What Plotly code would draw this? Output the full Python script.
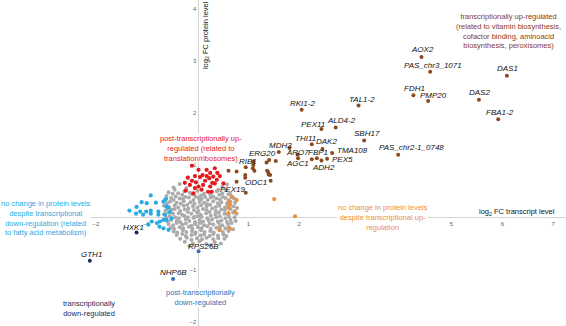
import plotly.graph_objects as go

# ---------------- data (log2 FC transcript, log2 FC protein) ----------------
gray_x = [-0.47, -0.35, -0.22, 0.41, 0.49, 0.58,
          -0.57, -0.45, -0.38, -0.26, -0.15, 0.00, 0.13, 0.38, 0.49, 0.56, 0.64,
          -0.61, -0.49, -0.43, -0.30, -0.24, -0.11, -0.04, 0.07, 0.15, 0.25, 0.31, 0.43, 0.50, 0.61, 0.67,
          -0.64, -0.52, -0.47, -0.35, -0.29, -0.17, -0.08, 0.02, 0.08, 0.20, 0.26, 0.37, 0.44, 0.55, 0.62, 0.72,
          -0.60, -0.54, -0.41, -0.33, -0.27, -0.14, -0.06, 0.04, 0.13, 0.19, 0.31, 0.40, 0.47, 0.58, 0.65, 0.74,
          -0.66, -0.56, -0.45, -0.38, -0.27, -0.20, -0.09, 0.00, 0.07, 0.18, 0.25, 0.36, 0.43, 0.54, 0.61, 0.71, 0.78,
          -0.63, -0.51, -0.45, -0.34, -0.25, -0.18, -0.07, 0.02, 0.11, 0.18, 0.29, 0.36, 0.47, 0.54, 0.65, 0.73,
          -0.66, -0.57, -0.48, -0.37, -0.30, -0.19, -0.12, -0.01, 0.06, 0.17, 0.24, 0.35, 0.42, 0.53, 0.60, 0.70, 0.77,
          -0.62, -0.55, -0.44, -0.37, -0.26, -0.19, -0.08, 0.01, 0.08, 0.19, 0.26, 0.37, 0.44, 0.55, 0.62, 0.73,
          -0.59, -0.52, -0.41, -0.34, -0.23, -0.16, -0.05, 0.04, 0.11, 0.22, 0.29, 0.40, 0.47, 0.58, 0.65, 0.75,
          -0.57, -0.48, -0.41, -0.30, -0.23, -0.12, -0.05, 0.06, 0.13, 0.24, 0.31, 0.42, 0.49, 0.60, 0.67,
          -0.53, -0.46, -0.35, -0.28, -0.17, -0.10, 0.01, 0.08, 0.19, 0.26, 0.37, 0.44, 0.55, 0.62, 0.70,
          -0.47, -0.40, -0.29, -0.22, -0.11, -0.04, 0.07, 0.14, 0.25, 0.32, 0.43, 0.50, 0.61,
          -0.41, -0.30, -0.23, -0.12, -0.05, 0.06, 0.13, 0.24, 0.31, 0.40, 0.51, 0.57,
          -0.34, -0.21, -0.12, -0.01, 0.09, 0.18, 0.31, 0.41, 0.53,
          -0.25, -0.09, 0.04, 0.17, 0.34, 0.46, -0.16, 0.26]
gray_y = [0.57, 0.64, 0.56, 0.53, 0.58, 0.63,
          0.48, 0.53, 0.46, 0.50, 0.47, 0.51, 0.45, 0.50, 0.46, 0.52, 0.45,
          0.41, 0.45, 0.40, 0.43, 0.39, 0.44, 0.40, 0.42, 0.39, 0.44, 0.40, 0.43, 0.39, 0.44, 0.40,
          0.34, 0.37, 0.33, 0.36, 0.35, 0.38, 0.33, 0.37, 0.35, 0.33, 0.38, 0.36, 0.34, 0.37, 0.33, 0.36,
          0.27, 0.30, 0.28, 0.26, 0.31, 0.29, 0.26, 0.30, 0.28, 0.25, 0.31, 0.27, 0.29, 0.26, 0.30, 0.28,
          0.22, 0.20, 0.23, 0.19, 0.22, 0.24, 0.21, 0.19, 0.23, 0.21, 0.24, 0.20, 0.22, 0.19, 0.23, 0.21, 0.18,
          0.13, 0.15, 0.16, 0.12, 0.15, 0.17, 0.14, 0.12, 0.16, 0.14, 0.17, 0.12, 0.15, 0.14, 0.16, 0.12,
          0.06, 0.09, 0.07, 0.08, 0.05, 0.10, 0.07, 0.09, 0.05, 0.08, 0.10, 0.06, 0.09, 0.07, 0.05, 0.09, 0.07,
          -0.01, 0.02, 0.00, -0.02, 0.03, 0.00, -0.01, 0.02, 0.01, -0.02, 0.03, 0.00, 0.02, -0.02, 0.01, 0.00,
          -0.08, -0.05, -0.07, -0.09, -0.04, -0.07, -0.09, -0.05, -0.08, -0.06, -0.04, -0.08, -0.06, -0.09, -0.05, -0.07,
          -0.13, -0.15, -0.11, -0.14, -0.12, -0.16, -0.13, -0.11, -0.15, -0.12, -0.14, -0.11, -0.15, -0.13, -0.11,
          -0.20, -0.22, -0.19, -0.21, -0.18, -0.22, -0.19, -0.21, -0.17, -0.22, -0.20, -0.18, -0.21, -0.19, -0.23,
          -0.27, -0.29, -0.25, -0.28, -0.26, -0.29, -0.25, -0.28, -0.26, -0.29, -0.25, -0.28, -0.26,
          -0.34, -0.32, -0.36, -0.34, -0.32, -0.35, -0.33, -0.36, -0.32, -0.35, -0.33, -0.36,
          -0.41, -0.39, -0.43, -0.40, -0.42, -0.39, -0.42, -0.40, -0.41,
          -0.47, -0.50, -0.46, -0.51, -0.48, -0.50, -0.55, -0.53]

red_x = [-0.11, -0.15, -0.03, 0.05, 0.10, 0.18, 0.25, 0.23, 0.31, 0.38, 0.34, 0.39, 0.18, 0.34,
         0.51, -0.05, 0.02, 0.11, 0.08, -0.23, -0.08, 0.25, 0.28, 0.02, -0.11, -0.25, -0.19,
         0.44, 0.15, 0.29, -0.05, 0.21]
red_y = [0.70, 0.62, 0.67, 0.77, 0.81, 0.79, 0.85, 0.75, 0.78, 0.72, 0.65, 0.85, 0.91, 0.94,
         0.65, 0.56, 0.59, 0.62, 0.53, 0.51, 0.46, 0.59, 0.49, 0.91, 0.99, 0.66, 0.76,
         0.79, 0.70, 0.66, 0.79, 0.49]

cyan_x = [-0.92, -1.10, -1.00, -1.20, -1.34, -1.13, -1.01, -0.92, -1.21, -1.07, -0.92, -0.77, -0.77,
          -0.67, -0.62, -0.61, -0.58, -0.64, -0.67, -0.74, -0.80, -0.90, -0.75, -0.67, -0.57, -0.97,
          -0.82, -0.51, -0.61, -0.54]
cyan_y = [0.42, 0.29, 0.27, 0.20, 0.13, 0.11, 0.11, 0.13, 0.07, 0.05, 0.07, 0.11, 0.05,
          0.30, 0.35, 0.21, 0.18, 0.05, -0.05, -0.08, -0.11, -0.08, -0.18, -0.21, -0.24, -0.14,
          0.28, -0.02, -0.05, 0.10]

orange_x = [1.51, 1.92, 0.64, 0.74, 0.61, 0.61, 0.64, 0.61, 0.44, 0.77, 0.68]
orange_y = [0.35, 0.02, -0.22, 0.10, 0.18, 0.30, 0.24, 0.08, -0.24, 0.33, 0.39]

brown_x = [0.61, 0.77, 0.94, 0.94, 0.77, 1.09, 1.12, 1.36, 1.54, 1.37, 1.43, 1.81, 1.97,
           1.10, 1.10, 1.39, 1.40]
brown_y = [0.89, 0.88, 0.81, 0.76, 0.68, 0.94, 0.89, 1.05, 1.08, 0.89, 0.81, 1.33, 1.20,
           1.07, 1.00, 0.87, 0.82]

up_names = ["AOX2", "PAS_chr3_1071", "DAS1", "FDH1", "PMP20", "DAS2", "FBA1-2", "TAL1-2",
            "RKI1-2", "PEX11", "ALD4-2", "SBH17", "THI11", "DAK2", "TMA108", "PAS_chr2-1_0748",
            "FBP1", "PEX5", "ADH2", "AGC1", "ARO7", "MDH3", "ERG20", "RIB1", "ODC1", "PEX19"]
up_x = [4.41, 4.58, 6.09, 4.25, 4.54, 5.54, 5.92, 3.17,
        2.05, 2.44, 2.72, 3.28, 2.25, 2.46, 2.65, 3.95,
        2.35, 2.55, 2.44, 2.25, 1.98, 1.60, 1.41, 0.95, 1.44, 0.95]
up_y = [3.07, 2.79, 2.71, 2.34, 2.23, 2.25, 1.88, 2.14,
        2.06, 1.69, 1.72, 1.47, 1.40, 1.31, 1.23, 1.20,
        1.13, 1.12, 1.09, 1.11, 1.13, 1.25, 1.10, 0.96, 0.70, 0.47]

navy_names = ["HXK1", "GTH1"]
navy_x = [-1.20, -2.12]
navy_y = [-0.29, -0.83]

blue_names = ["RPS26B", "NHP6B"]
blue_x = [0.02, -0.48]
blue_y = [-0.65, -1.18]

# ticks that stay visible in the reference (the others sit under the text boxes)
x_ticks = [-2, -1, 0, 1, 2, 5, 6, 7]
y_ticks = [-2, -1, 0, 1, 2, 3, 4]

# label offsets in pixels (text centre relative to point)
up_dx = [1, 3, 1, 1, 5, 1, 2, 3, 1, -8, 6, 3, -6, 4, 20, 13, 1, 15, 2, -14, -1, 2, -7, 2, -15, -13]
up_dy = [8, 6, 7, 7, 5, 7, 7, 6, 6, 5, 7, 7, 6, 7, 3, 7, 6, -1, -7, -4, 6, 7, 6, 6, -2, 3]
navy_dx = [-3, 2]
navy_dy = [5, 6]
blue_dx = [5, 0]
blue_dy = [5, 6]

# ---------------- styling ----------------
FONT = "Liberation Sans, Arial, sans-serif"
C_GRAY = "#ababab"
C_RED = "#e8191c"
C_CYAN = "#29abe2"
C_ORANGE = "#ec8f3e"
C_BROWN = "#8b4a1e"
C_NAVY = "#1c2b5e"
C_BLUE = "#2f72b8"

XR = [-3.888, 7.254]
YR = [-2.082, 4.163]

fig = go.Figure()


def add_pts(xs, ys, color, size=4.2):
    fig.add_trace(go.Scatter(x=xs, y=ys, mode="markers",
                             marker=dict(color=color, size=size, line=dict(width=0)),
                             hoverinfo="skip", showlegend=False))


add_pts(gray_x, gray_y, C_GRAY, 4)
add_pts(cyan_x, cyan_y, C_CYAN)
add_pts(orange_x, orange_y, C_ORANGE)
add_pts(red_x, red_y, C_RED)
add_pts(brown_x, brown_y, C_BROWN, 4)
add_pts(up_x, up_y, C_BROWN, 4)
add_pts(navy_x, navy_y, C_NAVY, 4)
add_pts(blue_x, blue_y, C_BLUE, 4)

annotations = []


def group(text, x, y, color, bg=None):
    d = dict(x=x, y=y, xref="x", yref="y", text=text, showarrow=False, align="center",
             font=dict(family=FONT, size=7.5, color=color), borderpad=0)
    if bg:
        d["bgcolor"] = bg
    annotations.append(d)


group("transcriptionally up-regulated<br>(related to vitamin biosynthesis,<br>"
      "cofactor binding, aminoacid<br>biosynthesis, peroxisomes)", 6.13, 3.57, "#8b3a1e")
group("post-transcriptionally up-<br>regulated (related to<br>translation/ribosomes)",
      0.07, 1.31, C_RED, "white")
group("no change in protein levels<br>despite transcriptional up-<br>regulation",
      3.65, -0.01, C_ORANGE, "white")
group("no change in protein levels<br>despite transcriptional<br>down-regulation (related<br>"
      "to fatty acid metabolism)", -3.0, -0.02, C_CYAN, "white")
group("post-transcriptionally<br>down-regulated", 0.05, -1.54, C_BLUE, "white")
group("transcriptionally<br>down-regulated", -2.14, -1.74, C_NAVY)


def labels(names, xs, ys, dxs, dys):
    for n, x, y, dx, dy in zip(names, xs, ys, dxs, dys):
        annotations.append(dict(x=x, y=y, xref="x", yref="y", text="<i>" + n + "</i>",
                                showarrow=False, xshift=dx, yshift=dy,
                                font=dict(family=FONT, size=8, color="#111111")))


labels(up_names, up_x, up_y, up_dx, up_dy)
labels(navy_names, navy_x, navy_y, navy_dx, navy_dy)
labels(blue_names, blue_x, blue_y, blue_dx, blue_dy)

annotations.append(dict(x=7.08, y=0.10, xref="x", yref="y", xanchor="right", yanchor="middle",
                        text="log<sub>2</sub> FC transcript level", showarrow=False,
                        font=dict(family=FONT, size=7.5, color="#111111")))
annotations.append(dict(x=0.167, y=3.49, xref="x", yref="y", textangle=-90,
                        text="log<sub>2</sub> FC protein level", showarrow=False,
                        font=dict(family=FONT, size=7.5, color="#111111")))

xpos = (0 - YR[0]) / (YR[1] - YR[0])
ypos = (0 - XR[0]) / (XR[1] - XR[0])

axis_common = dict(showgrid=False, zeroline=False, showline=True, linecolor="#d4d4d4",
                   linewidth=1, ticks="", layer="below traces", automargin=False,
                   tickfont=dict(family=FONT, size=6, color="#666666"))

fig.update_layout(
    width=566, height=326,
    margin=dict(l=0, r=0, t=0, b=0, pad=0),
    paper_bgcolor="white", plot_bgcolor="white",
    xaxis=dict(range=XR, anchor="free", position=xpos, tickvals=x_ticks, **axis_common),
    yaxis=dict(range=YR, anchor="free", position=ypos, tickvals=y_ticks, **axis_common),
    annotations=annotations,
    showlegend=False,
)

fig.write_html("out.html", config={"displayModeBar": False},
               post_script="document.body.style.margin='0';")
